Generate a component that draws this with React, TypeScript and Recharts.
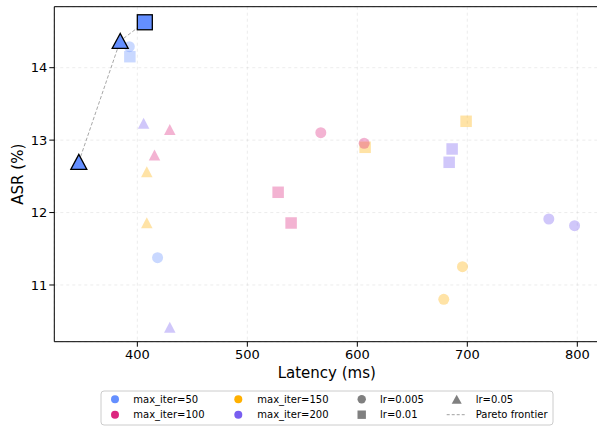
import React from 'react';
import { ScatterChart, Scatter, XAxis, YAxis, CartesianGrid, ReferenceLine, Label } from 'recharts';

// ---- data ----
const maxIters = [50, 100, 150, 200];
const iterColors: Record<number, string> = { 50: '#648FFF', 100: '#DC267F', 150: '#FFB000', 200: '#785EF0' };
const lrValues = ['0.005', '0.01', '0.05'];
const lrShapes: Record<string, string> = { '0.005': 'circle', '0.01': 'square', '0.05': 'triangle' };

// non-frontier configurations, per max_iter: latency (ms), ASR (%), lr
const iter50 = [
  { lat: 392.7, asr: 14.29, lr: '0.005' },
  { lat: 418.4, asr: 11.377, lr: '0.005' },
  { lat: 393.2, asr: 14.152, lr: '0.01' },
];
const iter100 = [
  { lat: 566.8, asr: 13.103, lr: '0.005' },
  { lat: 606.2, asr: 12.956, lr: '0.005' },
  { lat: 528.0, asr: 12.28, lr: '0.01' },
  { lat: 539.8, asr: 11.856, lr: '0.01' },
  { lat: 429.5, asr: 13.147, lr: '0.05' },
  { lat: 415.6, asr: 12.795, lr: '0.05' },
];
const iter150 = [
  { lat: 695.6, asr: 11.253, lr: '0.005' },
  { lat: 678.6, asr: 10.802, lr: '0.005' },
  { lat: 607.1, asr: 12.901, lr: '0.01' },
  { lat: 698.9, asr: 13.26, lr: '0.01' },
  { lat: 408.6, asr: 12.564, lr: '0.05' },
  { lat: 408.6, asr: 11.86, lr: '0.05' },
];
const iter200 = [
  { lat: 774.1, asr: 11.911, lr: '0.005' },
  { lat: 797.5, asr: 11.819, lr: '0.005' },
  { lat: 686.2, asr: 12.878, lr: '0.01' },
  { lat: 683.5, asr: 12.694, lr: '0.01' },
  { lat: 405.7, asr: 13.234, lr: '0.05' },
  { lat: 429.5, asr: 10.416, lr: '0.05' },
];
// Pareto-optimal configurations (all max_iter=50)
const paretoFrontier = [
  { lat: 346.8, asr: 12.7, lr: '0.05' },
  { lat: 384.4, asr: 14.369, lr: '0.05' },
  { lat: 406.8, asr: 14.627, lr: '0.01' },
];

const seriesByIter: Record<number, { lat: number; asr: number; lr: string }[]> = {
  50: iter50, 100: iter100, 150: iter150, 200: iter200,
};
const drawOrder = [50, 150, 200, 100];

const xTicks = [400, 500, 600, 700, 800];
const yTicks = [11, 12, 13, 14];
const xDomain: [number, number] = [324.5, 820];
const yDomain: [number, number] = [10.217, 14.842];

const legendIterLabels = ['max_iter=50', 'max_iter=100', 'max_iter=150', 'max_iter=200'];
const legendLrLabels = ['lr=0.005', 'lr=0.01', 'lr=0.05'];
const legendFrontierLabel = 'Pareto frontier';

const FONT = '"DejaVu Sans", sans-serif';

function drawMarker(cx: number, cy: number, kind: string, color: string, pareto: boolean) {
  if (cx == null || cy == null || isNaN(cx) || isNaN(cy)) return <g />;
  const fo = pareto ? 1 : 0.35;
  const stroke = pareto ? '#000' : 'none';
  const sw = pareto ? 1.3 : 0;
  if (kind === 'circle') {
    const r = pareto ? 7.5 : 5.5;
    return <circle cx={cx} cy={cy} r={r} fill={color} fillOpacity={fo} stroke={stroke} strokeWidth={sw} />;
  }
  if (kind === 'square') {
    const s = pareto ? 15 : 11.5;
    return <rect x={cx - s / 2} y={cy - s / 2} width={s} height={s} fill={color} fillOpacity={fo} stroke={stroke} strokeWidth={sw} />;
  }
  const w = pareto ? 16 : 11.5;
  const h = pareto ? 15 : 11;
  const pts = `${cx},${cy - h / 2} ${cx - w / 2},${cy + h / 2} ${cx + w / 2},${cy + h / 2}`;
  return <polygon points={pts} fill={color} fillOpacity={fo} stroke={stroke} strokeWidth={sw} strokeLinejoin="miter" />;
}

function Legend() {
  const rowY = [399.3, 414.7];
  const colMarkerX = [115, 238.3, 361.7, 456.7];
  const colTextX = [133.3, 257.3, 380, 475.7];
  const items: React.ReactNode[] = [];
  legendIterLabels.forEach((lab, i) => {
    const col = Math.floor(i / 2);
    const row = i % 2;
    const it = maxIters[i];
    items.push(<circle key={'m' + i} cx={colMarkerX[col]} cy={rowY[row]} r={4} fill={iterColors[it]} />);
    items.push(
      <text key={'t' + i} x={colTextX[col]} y={rowY[row]} dominantBaseline="central" fontSize={10} fontFamily={FONT} fill="#000">{lab}</text>
    );
  });
  legendLrLabels.forEach((lab, i) => {
    const slot = i + 4;
    const col = Math.floor(slot / 2);
    const row = slot % 2;
    const cx = colMarkerX[col];
    const cy = rowY[row];
    const kind = lrShapes[lrValues[i]];
    let m: React.ReactNode;
    if (kind === 'circle') m = <circle cx={cx} cy={cy} r={4.2} fill="#808080" />;
    else if (kind === 'square') m = <rect x={cx - 4.2} y={cy - 4.2} width={8.4} height={8.4} fill="#808080" />;
    else m = <polygon points={`${cx},${cy - 4.5} ${cx - 5},${cy + 4.5} ${cx + 5},${cy + 4.5}`} fill="#808080" />;
    items.push(<g key={'lm' + i}>{m}</g>);
    items.push(
      <text key={'lt' + i} x={colTextX[col]} y={cy} dominantBaseline="central" fontSize={10} fontFamily={FONT} fill="#000">{lab}</text>
    );
  });
  items.push(<line key="pl" x1={446.7} x2={466.7} y1={rowY[1]} y2={rowY[1]} stroke="#a0a0a0" strokeWidth={1} strokeDasharray="3 2" />);
  items.push(
    <text key="pt" x={colTextX[3]} y={rowY[1]} dominantBaseline="central" fontSize={10} fontFamily={FONT} fill="#000">{legendFrontierLabel}</text>
  );
  return (
    <svg width={597} height={427} style={{ position: 'absolute', left: 0, top: 0, pointerEvents: 'none' }}>
      <rect x={101} y={391} width={452} height={34} rx={3} ry={3} fill="#fff" fillOpacity={0.8} stroke="#cccccc" strokeWidth={1} />
      {items}
    </svg>
  );
}

export default function App() {
  return (
    <div style={{ position: 'absolute', left: 0, top: 0, width: 597, height: 427, overflow: 'hidden', background: '#fff' }}>
      <ScatterChart width={610} height={427} margin={{ top: 6.7, right: 10.7, bottom: 0, left: 0 }}>
        <CartesianGrid stroke="#b0b0b0" strokeOpacity={0.3} strokeDasharray="3 3" strokeWidth={0.8} />
        <XAxis
          type="number"
          dataKey="lat"
          domain={xDomain}
          ticks={xTicks}
          allowDataOverflow
          height={85.3}
          stroke="#000"
          tickSize={5}
          tickMargin={3}
          tick={{ fontSize: 13, fontFamily: FONT, fill: '#000' }}
          tickLine={{ stroke: '#000' }}
          axisLine={{ stroke: '#000', strokeWidth: 1 }}
        >
          <Label
            content={(p: any) => {
              const vb = p.viewBox || { x: 54.3, y: 341.7, width: 545, height: 85.3 };
              return (
                <text x={vb.x + vb.width / 2} y={vb.y + 31.5} textAnchor="middle" dominantBaseline="central" fontSize={15} fontFamily={FONT} fill="#000">
                  Latency (ms)
                </text>
              );
            }}
          />
        </XAxis>
        <YAxis
          type="number"
          dataKey="asr"
          domain={yDomain}
          ticks={yTicks}
          allowDataOverflow
          width={54.3}
          stroke="#000"
          tickSize={5}
          tickMargin={2}
          tick={{ fontSize: 13, fontFamily: FONT, fill: '#000' }}
          tickLine={{ stroke: '#000' }}
          axisLine={{ stroke: '#000', strokeWidth: 1 }}
        >
          <Label
            content={(p: any) => {
              const vb = p.viewBox || { x: 0, y: 6.7, width: 54.3, height: 335 };
              const cy = vb.y + vb.height / 2;
              return (
                <text x={18} y={cy} transform={`rotate(-90 18 ${cy})`} textAnchor="middle" dominantBaseline="central" fontSize={15} fontFamily={FONT} fill="#000">
                  ASR (%)
                </text>
              );
            }}
          />
        </YAxis>
        <ReferenceLine y={yDomain[1]} stroke="#000" strokeWidth={1} ifOverflow="extendDomain" />
        {drawOrder.flatMap((it) =>
          lrValues.map((lr) => {
            const data = seriesByIter[it].filter((d) => d.lr === lr);
            if (!data.length) return null;
            return (
              <Scatter
                key={`s-${it}-${lr}`}
                data={data}
                isAnimationActive={false}
                shape={(p: any) => drawMarker(p.cx, p.cy, lrShapes[lr], iterColors[it], false)}
              />
            );
          })
        )}
        <Scatter
          key="frontier-line"
          data={paretoFrontier}
          isAnimationActive={false}
          line={{ stroke: '#a8a8a8', strokeWidth: 1, strokeDasharray: '3.5 2' }}
          shape={() => <g />}
        />
        <Scatter
          key="frontier-pts"
          data={paretoFrontier}
          isAnimationActive={false}
          shape={(p: any) => drawMarker(p.cx, p.cy, lrShapes[p.payload?.lr ?? '0.05'], iterColors[50], true)}
        />
      </ScatterChart>
      <Legend />
    </div>
  );
}
